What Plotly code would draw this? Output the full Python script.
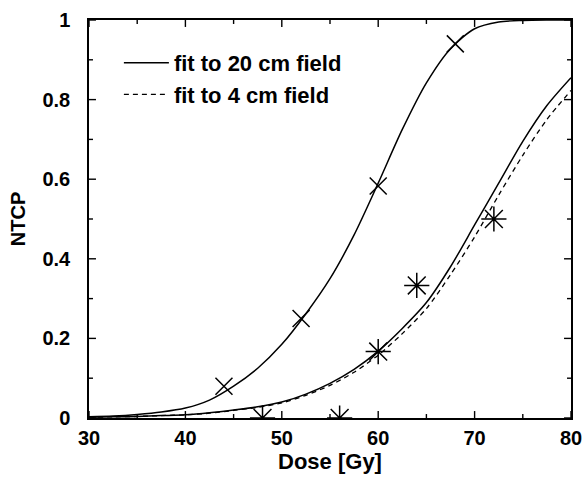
import plotly.graph_objects as go

# Measured points
dose_20cm = [44, 52, 60, 68]
ntcp_20cm = [0.08, 0.25, 0.583, 0.94]
dose_4cm = [48, 56, 60, 64, 72]
ntcp_4cm = [0.0, 0.0, 0.167, 0.333, 0.5]

# Curves
curve_dose = [30, 32.5, 35, 37.5, 40, 42.5, 45, 47.5, 50, 52.5, 55, 57.5, 60, 62.5, 65, 67.5, 70, 72.5, 75, 77.5, 80]
fit20_upper = [0.003, 0.005, 0.009, 0.015, 0.025, 0.045, 0.08, 0.125, 0.185, 0.262, 0.35, 0.46, 0.59, 0.725, 0.842, 0.928, 0.978, 0.995, 0.999, 1.0, 1.0]
fit20_lower = [0.002, 0.003, 0.004, 0.006, 0.008, 0.013, 0.02, 0.028, 0.04, 0.06, 0.087, 0.122, 0.168, 0.225, 0.29, 0.38, 0.485, 0.59, 0.695, 0.785, 0.855]
fit4 = [0.002, 0.003, 0.004, 0.006, 0.008, 0.012, 0.019, 0.027, 0.038, 0.057, 0.082, 0.115, 0.158, 0.212, 0.275, 0.36, 0.455, 0.56, 0.66, 0.75, 0.823]

# Axis ticks
x_ticks = [30, 40, 50, 60, 70, 80]
x_minor_ticks = [35, 45, 55, 65, 75]
y_ticks = [0, 0.2, 0.4, 0.6, 0.8, 1]
y_ticklabels = ["0", "0.2", "0.4", "0.6", "0.8", "1"]
y_minor_ticks = [0.1, 0.3, 0.5, 0.7, 0.9]
x_range = [30, 80]
y_range = [0, 1]

FONT = "Liberation Sans"
W, H = 582, 478
M = dict(l=89, r=9, t=17, b=60)
plot_w = W - M["l"] - M["r"]
plot_h = H - M["t"] - M["b"]

fig = go.Figure()
fig.add_trace(go.Scatter(x=curve_dose, y=fit20_upper, mode="lines",
                         line=dict(color="black", width=1.5, shape="spline", smoothing=0.8),
                         name="fit to 20 cm field", legendgroup="a"))
fig.add_trace(go.Scatter(x=curve_dose, y=fit20_lower, mode="lines",
                         line=dict(color="black", width=1.5, shape="spline", smoothing=0.8),
                         name="fit to 20 cm field", legendgroup="a", showlegend=False))
fig.add_trace(go.Scatter(x=curve_dose, y=fit4, mode="lines",
                         line=dict(color="black", width=1.3, dash="5px,4px", shape="spline", smoothing=0.8),
                         name="fit to 4 cm field"))
fig.add_trace(go.Scatter(x=dose_20cm, y=ntcp_20cm, mode="markers", showlegend=False,
                         marker=dict(symbol="x-thin-open", size=17, line=dict(color="black", width=1.5), color="black")))
fig.add_trace(go.Scatter(x=dose_4cm, y=ntcp_4cm, mode="markers", showlegend=False,
                         marker=dict(symbol="asterisk-open", size=21, line=dict(color="black", width=1.5), color="black")))

# inward tick marks on all four sides (positions from the tick arrays, lengths in pixels)
tick_line = dict(color="black", width=1.4)
shapes = []
for vals, ln in ((x_ticks, 7), (x_minor_ticks, 4)):
    f = ln / plot_h
    for v in vals:
        shapes.append(dict(type="line", xref="x", yref="paper", x0=v, x1=v, y0=0, y1=f, line=tick_line))
        shapes.append(dict(type="line", xref="x", yref="paper", x0=v, x1=v, y0=1 - f, y1=1, line=tick_line))
for vals, ln in ((y_ticks, 7), (y_minor_ticks, 4)):
    f = ln / plot_w
    for v in vals:
        shapes.append(dict(type="line", xref="paper", yref="y", x0=0, x1=f, y0=v, y1=v, line=tick_line))
        shapes.append(dict(type="line", xref="paper", yref="y", x0=1 - f, x1=1, y0=v, y1=v, line=tick_line))

fig.update_layout(
    width=W, height=H,
    margin=M,
    paper_bgcolor="white", plot_bgcolor="white",
    showlegend=True,
    shapes=shapes,
    xaxis=dict(range=x_range, tickvals=x_ticks, ticktext=[f"<b>{v}</b>" for v in x_ticks],
               showline=True, linecolor="black", linewidth=1.5, mirror=True, ticks="",
               showgrid=False, zeroline=False, automargin=False, ticklabeloverflow="allow",
               ticklabelstandoff=1, tickfont=dict(family=FONT, size=20, color="black"),
               title=dict(text="<b>Dose [Gy]</b>", font=dict(family=FONT, size=22, color="black"), standoff=3)),
    yaxis=dict(range=y_range, tickvals=y_ticks, ticktext=[f"<b>{t}</b>" for t in y_ticklabels],
               showline=True, linecolor="black", linewidth=1.5, mirror=True, ticks="",
               showgrid=False, zeroline=False, automargin=True, ticklabelstandoff=13,
               tickfont=dict(family=FONT, size=20, color="black"),
               title=dict(text="<b>NTCP</b>", font=dict(family=FONT, size=20, color="black"), standoff=11)),
    legend=dict(x=0.062, y=0.945, xanchor="left", yanchor="top", bgcolor="rgba(0,0,0,0)",
                font=dict(family=FONT, size=22, color="black", weight="bold"),
                itemwidth=45, tracegroupgap=0, traceorder="normal"),
)

fig.write_html("out.html", config={"displayModeBar": False},
               post_script="document.body.style.margin='0';document.body.style.padding='0';")
